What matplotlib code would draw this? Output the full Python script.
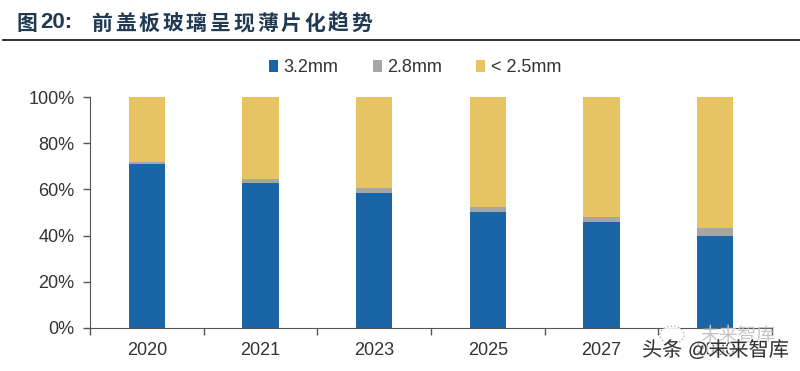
import matplotlib
matplotlib.use('Agg')
import matplotlib.pyplot as plt
import matplotlib.patheffects as pe
from matplotlib.patches import Ellipse
import numpy as np

plt.rcParams['font.family'] = ['Liberation Sans', 'Noto Sans CJK SC', 'DejaVu Sans']

years = ['2020', '2021', '2023', '2025', '2027', '2030']
mm32 = [71, 62.8, 58.6, 50.3, 45.7, 39.7]
mm28 = [0.7, 1.7, 2, 2.2, 2.3, 3.6]
mm25 = [28.3, 35.5, 39.4, 47.5, 52, 56.7]
y_ticks = [0, 20, 40, 60, 80, 100]
title_chars = '前盖板玻璃呈现薄片化趋势'

fig = plt.figure(figsize=(8, 3.71), dpi=100)
W, H = 800, 371
title_color = '#1f3a52'

# Title and rule above the chart
fig.text(17 / W, 1 - 23 / H, '图', fontsize=15, fontweight='bold', color=title_color,
         family='Noto Sans CJK SC', va='center')
fig.text(40 / W, 1 - 23 / H, '20:', fontsize=16, fontweight='bold', color=title_color,
         family='Liberation Sans', va='center')
for i, ch in enumerate(title_chars):
    fig.text((91 + i * 23.7) / W, 1 - 23 / H, ch, fontsize=15, fontweight='bold',
             color=title_color, family='Noto Sans CJK SC', va='center')
fig.add_artist(plt.Line2D([3 / W, 1], [1 - 40 / H, 1 - 40 / H], color='#222222', lw=1.3))

# Plot area
ax = fig.add_axes([90 / W, 1 - 328 / H, 682 / W, 231 / H])
x = np.arange(len(years))
bw = 0.32
bottom2 = np.array(mm32)
bottom3 = bottom2 + np.array(mm28)
ax.bar(x, mm32, bw, color='#1a65a5', label='3.2mm')
ax.bar(x, mm28, bw, bottom=bottom2, color='#a6a6a6', label='2.8mm')
ax.bar(x, mm25, bw, bottom=bottom3, color='#e6c463', label='< 2.5mm')

ax.set_xlim(-0.5, 5.5)
ax.set_ylim(0, 100)
ax.set_yticks(y_ticks)
ax.set_yticklabels([f'{v}%' for v in y_ticks], fontsize=13, color='#333333')
ax.set_xticks(x)
ax.set_xticklabels(years, fontsize=13, color='#333333')
ax.tick_params(axis='x', length=0, pad=10)
ax.tick_params(axis='y', length=5, width=1, color='#555555', pad=6)
# category separators on the x axis
ax.set_xticks(np.arange(-0.5, 6, 1), minor=True)
ax.tick_params(axis='x', which='minor', length=5, width=1, color='#555555')
for s in ['top', 'right']:
    ax.spines[s].set_visible(False)
for s in ['left', 'bottom']:
    ax.spines[s].set_color('#555555')

# Legend drawn at the top
fig.legend(loc='center', bbox_to_anchor=(415 / W, 1 - 68 / H), ncol=3, frameon=False,
           fontsize=13, handlelength=0.5, handleheight=0.6, handletextpad=0.3,
           columnspacing=1.9, labelcolor='#333333')

# Watermarks
fig.add_artist(Ellipse((672 / W, 1 - 335 / H), 24 / W, 18 / H, facecolor='white', alpha=0.9,
                       edgecolor='#aaaaaa', lw=1, ls=':', transform=fig.transFigure))
fig.text(700 / W, 1 - 335 / H, '未来智库', fontsize=13.5, color='#c4c4c4',
         family='Noto Sans CJK SC', va='center')
fig.text(642 / W, 1 - 350 / H, '头条 @未来智库', fontsize=14.5, color='#333333',
         family=['Liberation Sans', 'Noto Sans CJK SC'], va='center',
         path_effects=[pe.withStroke(linewidth=2, foreground='white', alpha=0.7)])

fig.savefig('out.png', dpi=100)
